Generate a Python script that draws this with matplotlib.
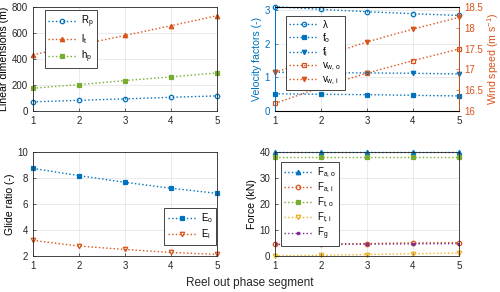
import matplotlib
matplotlib.use("Agg")
import matplotlib.pyplot as plt

plt.rcParams['font.family'] = ['Liberation Sans', 'DejaVu Sans']
plt.rcParams['mathtext.default'] = 'regular'

segments = [1, 2, 3, 4, 5]
R_p = [70, 82, 93, 105, 116]
l_t = [432, 507, 581, 656, 733]
h_p = [175, 203, 234, 262, 293]

lam = [3.10, 3.02, 2.95, 2.89, 2.84]
f_o = [0.51, 0.495, 0.485, 0.465, 0.445]
f_i = [1.15, 1.14, 1.13, 1.12, 1.10]
v_wo = [16.18, 16.57, 16.91, 17.21, 17.49]
v_wi = [16.93, 17.30, 17.66, 17.97, 18.25]

E_o = [8.75, 8.19, 7.68, 7.22, 6.83]
E_i = [3.21, 2.77, 2.51, 2.28, 2.13]

F_ao = [40.0, 40.0, 40.0, 40.0, 40.0]
F_ai = [4.47, 4.6, 4.8, 5.1, 5.2]
F_to = [38.0, 38.0, 38.0, 38.0, 38.0]
F_ti = [0.1, 0.3, 0.6, 0.9, 1.2]
F_g = [4.5, 4.55, 4.6, 4.7, 4.8]

BLUE = '#0072BD'
ORANGE = '#D95319'
YELLOW = '#EDB120'
PURPLE = '#7E2F8E'
GREEN = '#77AC30'

fig = plt.figure(figsize=(5.0, 2.92), dpi=100)
L1, L2, W = 0.066, 0.55, 0.368
B1, B2, H = 0.620, 0.123, 0.356
ax1 = fig.add_axes([L1, B1, W, H])
ax2 = fig.add_axes([L2, B1, W, H])
ax3 = fig.add_axes([L1, B2, W, H])
ax4 = fig.add_axes([L2, B2, W, H])

kw = dict(ls=':', lw=1.0, ms=3.2, mew=0.9, clip_on=False)
FS = 7
YFS = 7.6

def style(ax):
    ax.set_xlim(1, 5)
    ax.set_xticks(segments)
    ax.grid(True, color='#e6e6e6', lw=0.6)
    ax.set_axisbelow(True)
    ax.tick_params(direction='in', labelsize=FS, length=2.5, width=0.5, colors='#262626')
    for s in ax.spines.values():
        s.set_linewidth(0.6)
        s.set_color('#262626')

def leg(ax, handles=None, spacing=0.25, **k):
    opts = dict(fontsize=FS, handlelength=2.9, handletextpad=0.5, frameon=True, fancybox=False,
                edgecolor='#262626', borderpad=0.35, labelspacing=spacing, framealpha=1,
                borderaxespad=0.0)
    opts.update(k)
    if handles is None:
        l = ax.legend(**opts)
    else:
        l = ax.legend(handles=handles, **opts)
    l.get_frame().set_linewidth(0.6)
    return l

# Top-left
style(ax1)
ax1.plot(segments, R_p, color=BLUE, marker='o', mfc='none', label='R$_{p}$', **kw)
ax1.plot(segments, l_t, color=ORANGE, marker='^', label='l$_{t}$', **kw)
ax1.plot(segments, h_p, color=GREEN, marker='s', label='h$_{p}$', **kw)
ax1.set_ylim(0, 800)
ax1.set_yticks([0, 200, 400, 600, 800])
ax1.set_ylabel('Linear dimensions (m)', fontsize=YFS, labelpad=2)
leg(ax1, loc='upper left', bbox_to_anchor=(0.065, 0.97))

# Top-right
style(ax2)
ax2r = ax2.twinx()
h1, = ax2.plot(segments, lam, color=BLUE, marker='o', mfc='none', label='λ', **kw)
h2, = ax2.plot(segments, f_o, color=BLUE, marker='s', label='f$_{o}$', **kw)
h3, = ax2.plot(segments, f_i, color=BLUE, marker='v', label='f$_{i}$', **kw)
h4, = ax2r.plot(segments, v_wo, color=ORANGE, marker='s', mfc='none', label='v$_{w,o}$', **kw)
h5, = ax2r.plot(segments, v_wi, color=ORANGE, marker='v', label='v$_{w,i}$', **kw)
ax2.set_ylim(0, 3.09)
ax2.set_yticks([0, 1, 2, 3])
ax2r.set_ylim(16, 18.5)
ax2r.set_yticks([16, 16.5, 17, 17.5, 18, 18.5])
ax2r.set_yticklabels(['16', '16.5', '17', '17.5', '18', '18.5'])
ax2.set_ylabel('Velocity factors (-)', fontsize=YFS, color=BLUE, labelpad=2)
ax2r.set_ylabel('Wind speed (m s$^{-1}$)', fontsize=YFS, color=ORANGE, labelpad=2)
ax2.tick_params(axis='y', colors=BLUE)
ax2r.tick_params(direction='in', labelsize=FS, length=2.5, width=0.5, colors=ORANGE)
ax2.spines['left'].set_color(BLUE)
ax2r.spines['left'].set_color(BLUE)
ax2r.spines['right'].set_color(ORANGE)
ax2r.spines['right'].set_linewidth(0.6)
ax2r.spines['left'].set_linewidth(0.6)
leg(ax2r, handles=[h1, h2, h3, h4, h5], spacing=0.1, loc='upper left',
    bbox_to_anchor=(0.06, 0.91))

# Bottom-left
style(ax3)
ax3.plot(segments, E_o, color=BLUE, marker='s', label='E$_{o}$', **kw)
ax3.plot(segments, E_i, color=ORANGE, marker='v', mfc='none', label='E$_{i}$', **kw)
ax3.set_ylim(2, 10)
ax3.set_yticks([2, 4, 6, 8, 10])
ax3.set_ylabel('Glide ratio (-)', fontsize=YFS, labelpad=2)
leg(ax3, loc='lower right', bbox_to_anchor=(0.995, 0.11))

# Bottom-right
style(ax4)
ax4.plot(segments, F_ao, color=BLUE, marker='^', label='F$_{a,o}$', **kw)
ax4.plot(segments, F_ai, color=ORANGE, marker='o', mfc='none', label='F$_{a,i}$', **kw)
ax4.plot(segments, F_to, color=GREEN, marker='s', label='F$_{t,o}$', **kw)
ax4.plot(segments, F_ti, color=YELLOW, marker='v', mfc='none', label='F$_{t,i}$', **kw)
ax4.plot(segments, F_g, color=PURPLE, marker='s', ms=2, label='F$_{g}$', ls=':', lw=1.0)
ax4.set_ylim(0, 40)
ax4.set_yticks([0, 10, 20, 30, 40])
ax4.set_ylabel('Force (kN)', fontsize=YFS, labelpad=2)
leg(ax4, spacing=0.08, loc='upper left', bbox_to_anchor=(0.03, 0.905))

fig.text(0.5, 0.03, 'Reel out phase segment', ha='center', va='center', fontsize=8.5, color='#262626')

fig.savefig('out.png', dpi=100)
